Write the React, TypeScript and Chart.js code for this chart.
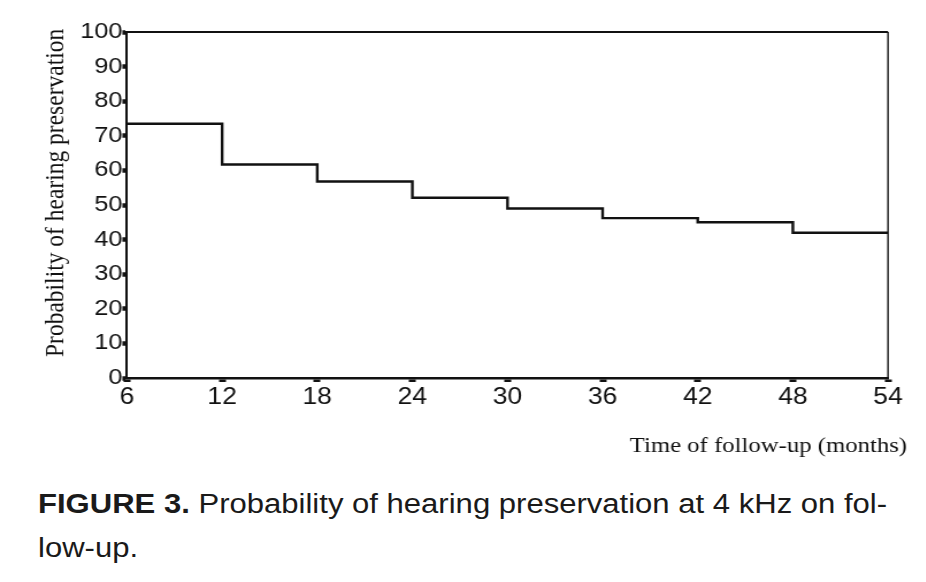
import React, { useEffect, useRef } from "react";
import { Chart, registerables } from "chart.js";

Chart.register(...registerables);

// ---- data ----
const months = [6, 12, 18, 24, 30, 36, 42, 48, 54];
const preservation = [73.5, 61.7, 56.8, 52.1, 49.0, 46.2, 45.0, 42.0, 42.0];
const xTickValues = [6, 12, 18, 24, 30, 36, 42, 48, 54];
const yTickValues = [0, 10, 20, 30, 40, 50, 60, 70, 80, 90, 100];
const yTitle = "Probability of hearing preservation";
const xTitle = "Time of follow-up (months)";
const captionBold = "FIGURE 3.";
const captionLine1 = " Probability of hearing preservation at 4 kHz on fol-";
const captionLine2 = "low-up.";

// ---- layout ----
const SX = 1.15; // horizontal stretch of the original scan
const W = 926 / SX;
const H = 470;
const SANS = '"Liberation Sans", Arial, Helvetica, sans-serif';
const SERIF = '"Liberation Serif", "Times New Roman", serif';
const INK = "#111";

const framePlugin = {
  id: "frameAndTitles",
  afterDraw(chart: any) {
    const { ctx, chartArea } = chart;
    const { left, right, top, bottom } = chartArea;
    ctx.save();
    ctx.strokeStyle = INK;
    ctx.lineWidth = 2;
    ctx.beginPath();
    ctx.moveTo(left, top);
    ctx.lineTo(right, top);
    ctx.stroke();
    ctx.lineWidth = 1.4;
    ctx.beginPath();
    ctx.moveTo(right, top);
    ctx.lineTo(right, bottom);
    ctx.stroke();

    ctx.fillStyle = INK;
    ctx.font = `21.5px ${SERIF}`;
    ctx.textAlign = "right";
    ctx.textBaseline = "alphabetic";
    ctx.fillText(xTitle, right + 19 / SX, bottom + 74);

    ctx.translate(left - 64 / SX, bottom - 21);
    ctx.rotate(-Math.PI / 2);
    ctx.textAlign = "left";
    ctx.font = `23.5px ${SERIF}`;
    ctx.fillText(yTitle, 0, 0);
    ctx.restore();
  },
};

export default function App() {
  const ref = useRef<HTMLCanvasElement | null>(null);

  useEffect(() => {
    if (!ref.current) return;
    const chart = new Chart(ref.current, {
      type: "line",
      data: {
        datasets: [
          {
            data: months.map((m, i) => ({ x: m, y: preservation[i] })),
            borderColor: INK,
            borderWidth: 2.4,
            stepped: "before",
            pointRadius: 0,
            fill: false,
          },
        ],
      },
      options: {
        animation: false,
        responsive: true,
        maintainAspectRatio: false,
        layout: { padding: { top: 32, right: W - 888 / SX, bottom: 0, left: 0 } },
        plugins: {
          legend: { display: false },
          tooltip: { enabled: false },
          title: { display: false },
        },
        scales: {
          x: {
            type: "linear",
            min: 6,
            max: 54,
            afterBuildTicks: (s: any) => {
              s.ticks = xTickValues.map((v) => ({ value: v }));
            },
            afterFit: (s: any) => {
              s.height = H - 378;
            },
            ticks: {
              font: { family: SANS, size: 23 },
              color: INK,
              padding: 2,
              maxRotation: 0,
              autoSkip: false,
            },
            grid: {
              display: true,
              drawOnChartArea: false,
              drawTicks: true,
              tickLength: 4,
              tickWidth: 6,
              tickColor: INK,
            },
            border: { display: true, color: INK, width: 2.5 },
          },
          y: {
            type: "linear",
            min: 0,
            max: 100,
            afterBuildTicks: (s: any) => {
              s.ticks = yTickValues.map((v) => ({ value: v }));
            },
            afterFit: (s: any) => {
              s.width = 127 / SX;
            },
            ticks: {
              font: { family: SANS, size: 22 },
              color: INK,
              padding: 0,
              autoSkip: false,
            },
            grid: {
              display: true,
              drawOnChartArea: false,
              drawTicks: true,
              tickLength: 4,
              tickWidth: 4.5,
              tickColor: INK,
            },
            border: { display: true, color: INK, width: 2 },
          },
        },
      },
      plugins: [framePlugin],
    });
    return () => chart.destroy();
  }, []);

  return (
    <div
      style={{
        position: "fixed",
        left: 0,
        top: 0,
        width: W,
        height: 582,
        transform: `scaleX(${SX})`,
        transformOrigin: "0 0",
        background: "#fff",
      }}
    >
      <div style={{ position: "absolute", left: 0, top: 0, width: W, height: H }}>
        <canvas ref={ref} />
      </div>
      <div
        style={{
          position: "absolute",
          left: 38 / SX,
          top: 482,
          fontFamily: SANS,
          fontSize: 27,
          lineHeight: "44px",
          color: "#1a1a1a",
          whiteSpace: "pre",
        }}
      >
        <div>
          <b>{captionBold}</b>
          {captionLine1}
        </div>
        <div>{captionLine2}</div>
      </div>
    </div>
  );
}
